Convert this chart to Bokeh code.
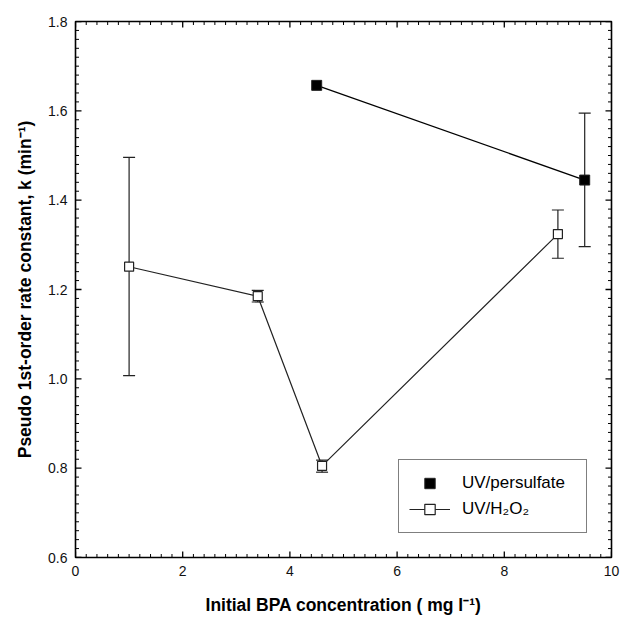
import numpy as np
from bokeh.plotting import figure
from bokeh.models import (ColumnDataSource, Whisker, TeeHead, Legend, LegendItem,
                          Range1d, FixedTicker, PrintfTickFormatter)
from bokeh.embed import file_html
from bokeh.resources import INLINE

# UV/persulfate series
ps_x = [4.5, 9.5]
ps_k = [1.657, 1.445]
ps_err_x = [9.5]
ps_lo = [1.296]
ps_hi = [1.595]

# UV/H2O2 series
hp_x = [1.0, 3.4, 4.6, 9.0]
hp_k = [1.251, 1.185, 0.805, 1.324]
hp_lo = [1.007, 1.172, 0.791, 1.270]
hp_hi = [1.496, 1.198, 0.818, 1.378]

x_ticks = [0, 2, 4, 6, 8, 10]
y_ticks = [0.6, 0.8, 1.0, 1.2, 1.4, 1.6, 1.8]

X0, X1 = 0, 10
Y0, Y1 = 0.6, 1.8
FRAME_W, FRAME_H = 536, 536
FONT = "Liberation Sans"

p = figure(frame_width=FRAME_W, frame_height=FRAME_H, output_backend="svg",
           toolbar_location=None,
           x_range=Range1d(X0, X1), y_range=Range1d(Y0, Y1),
           min_border_left=75, min_border_right=11, min_border_top=21,
           min_border_bottom=61)
p.background_fill_color = "white"
p.border_fill_color = "white"
p.outline_line_color = "black"
p.outline_line_width = 1.6
p.xgrid.visible = False
p.ygrid.visible = False

# the axes carry only the labels; the inward ticks are drawn as segments below
for ax, ticks, fmt in ((p.xaxis[0], x_ticks, "%d"), (p.yaxis[0], y_ticks, "%.1f")):
    ax.ticker = FixedTicker(ticks=ticks)
    ax.formatter = PrintfTickFormatter(format=fmt)
    ax.axis_line_color = None
    ax.major_tick_line_color = None
    ax.minor_tick_line_color = None
    ax.major_tick_in = 0
    ax.major_tick_out = 0
    ax.minor_tick_in = 0
    ax.minor_tick_out = 0
    ax.major_label_text_font = FONT
    ax.major_label_text_font_size = "14px"
    ax.major_label_text_color = "#111111"
    ax.axis_label_text_font = FONT
    ax.axis_label_text_font_style = "bold"
    ax.axis_label_text_font_size = "17.5px"
    ax.axis_label_text_color = "black"
p.xaxis[0].major_label_standoff = 8
p.yaxis[0].major_label_standoff = 8
p.xaxis[0].axis_label_standoff = 16
p.yaxis[0].axis_label_standoff = 10
p.xaxis.axis_label = "Initial BPA concentration ( mg l\u207B\u00B9)"
p.yaxis.axis_label = "Pseudo 1st-order rate constant, k (min\u207B\u00B9)"

# inward tick marks on all four sides of the frame
xpp = (X1 - X0) / FRAME_W   # data units per pixel, horizontally
ypp = (Y1 - Y0) / FRAME_H   # data units per pixel, vertically
x_minor = [v for v in np.round(np.arange(X0, X1 + 1e-9, 0.2), 3)
           if not any(abs(v - t) < 1e-6 for t in x_ticks)]
y_minor = [v for v in np.round(np.arange(Y0, Y1 + 1e-9, 0.02), 3)
           if not any(abs(v - t) < 1e-6 for t in y_ticks)]
for vals, length, lw in ((x_ticks, 6, 1.3), (x_minor, 3.5, 1.0)):
    v = list(vals)
    n = len(v)
    p.segment(v, [Y0] * n, v, [Y0 + length * ypp] * n, line_color="black", line_width=lw)
    p.segment(v, [Y1] * n, v, [Y1 - length * ypp] * n, line_color="black", line_width=lw)
for vals, length, lw in ((y_ticks, 6, 1.3), (y_minor, 3.5, 1.0)):
    v = list(vals)
    n = len(v)
    p.segment([X0] * n, v, [X0 + length * xpp] * n, v, line_color="black", line_width=lw)
    p.segment([X1] * n, v, [X1 - length * xpp] * n, v, line_color="black", line_width=lw)

# error bars
hp_src = ColumnDataSource(dict(x=hp_x, k=hp_k, lo=hp_lo, hi=hp_hi))
ps_err_src = ColumnDataSource(dict(x=ps_err_x, lo=ps_lo, hi=ps_hi))
for src in (hp_src, ps_err_src):
    w = Whisker(source=src, base="x", lower="lo", upper="hi", dimension="height",
                line_color="#222222", line_width=1.2,
                upper_head=TeeHead(size=12, line_color="#222222", line_width=1.2),
                lower_head=TeeHead(size=12, line_color="#222222", line_width=1.2))
    p.add_layout(w)

# series lines and markers
ps_src = ColumnDataSource(dict(x=ps_x, k=ps_k))
p.line("x", "k", source=ps_src, line_color="black", line_width=1.3)
ps_mark = p.scatter("x", "k", source=ps_src, marker="square", size=10,
                    fill_color="black", line_color="#222222", line_width=1)

hp_line = p.line("x", "k", source=hp_src, line_color="#222222", line_width=1.2)
hp_mark = p.scatter("x", "k", source=hp_src, marker="square", size=9,
                    fill_color="white", line_color="#222222", line_width=1.2)

legend = Legend(items=[
    LegendItem(label="UV/persulfate", renderers=[ps_mark]),
    LegendItem(label="UV/H\u2082O\u2082", renderers=[hp_line, hp_mark]),
], location=(323, 24))
legend.label_text_font = FONT
legend.label_text_font_size = "17px"
legend.label_text_color = "black"
legend.glyph_width = 41
legend.glyph_height = 26
legend.label_height = 26
legend.label_width = 114
legend.label_standoff = 12
legend.padding = 10
legend.spacing = 0
legend.margin = 0
legend.border_line_color = "black"
legend.border_line_width = 1.2
legend.background_fill_color = "white"
legend.background_fill_alpha = 1
p.add_layout(legend, "center")

open("out.html", "w").write(file_html(p, INLINE))
